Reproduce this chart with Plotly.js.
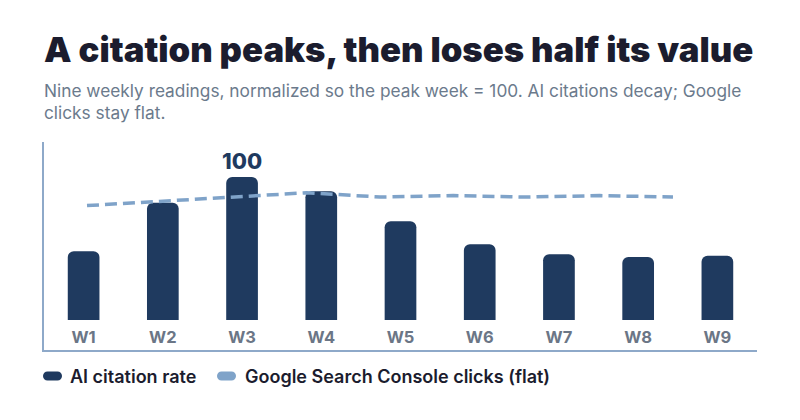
<!DOCTYPE html>
<html>
<head>
<meta charset="utf-8">
<script src="https://cdn.plot.ly/plotly-3.0.1.min.js"></script>
<style>html,body{margin:0;padding:0;background:#fff;}#chart{width:800px;height:420px;}</style>
</head>
<body>
<div id="chart"></div>
<script>
const weeks = ["W1","W2","W3","W4","W5","W6","W7","W8","W9"];
const aiCitation = [48, 82, 100, 90, 69, 53, 46, 44, 45];
const gscClicks = [80, 83, 86, 89, 86, 87, 86, 87, 86];
const gscIndex = [0, 1, 2, 3, 4, 5, 6, 7, 8];
const titleText = "A citation peaks, then loses half its value";
const subtitleText = "Nine weekly readings, normalized so the peak week = 100. AI citations decay; Google<br>clicks stay flat.";
const legendNames = ["AI citation rate", "Google Search Console clicks (flat)"];

const NAVY = "#1f3a5f";
const LIGHT = "#7fa3c9";
const AXIS = "#8ea9c9";
const FONT = "Inter, 'Noto Sans', sans-serif";

const peak = Math.max(...aiCitation);
const barText = aiCitation.map(v => v === peak ? String(v) : "");

function pill(x0, x1, yc, h) {
  const r = h / 2, t = yc + r, b = yc - r, k = r * 0.5523;
  return `M ${x0 + r},${t} L ${x1 - r},${t} ` +
    `C ${x1 - r + k},${t} ${x1},${yc + k} ${x1},${yc} ` +
    `C ${x1},${yc - k} ${x1 - r + k},${b} ${x1 - r},${b} ` +
    `L ${x0 + r},${b} ` +
    `C ${x0 + r - k},${b} ${x0},${yc - k} ${x0},${yc} ` +
    `C ${x0},${yc + k} ${x0 + r - k},${t} ${x0 + r},${t} Z`;
}

const traces = [
  {
    type: "bar", x: weeks, y: aiCitation, name: legendNames[0],
    marker: {color: NAVY, cornerradius: 6},
    text: barText, textposition: "outside", cliponaxis: false, constraintext: "none",
    textfont: {family: FONT, size: 22, color: NAVY, weight: 800},
    hoverinfo: "skip", showlegend: false
  },
  {
    type: "scatter", mode: "lines", x: gscIndex, y: gscClicks, name: legendNames[1],
    xaxis: "x2",
    line: {color: LIGHT, width: 3.5, dash: "12px,6px"},
    hoverinfo: "skip", showlegend: false
  }
];

const layout = {
  width: 800, height: 420,
  margin: {l: 44, r: 43, t: 142, b: 70},
  paper_bgcolor: "#ffffff", plot_bgcolor: "#ffffff",
  bargap: 0.6,
  font: {family: FONT},
  xaxis: {
    type: "category", range: [-0.5, 8.5],
    showline: true, linecolor: AXIS, linewidth: 2,
    showgrid: false, zeroline: false, ticks: "",
    ticklabelposition: "inside", ticklabelstandoff: 4,
    tickfont: {family: FONT, size: 16.5, color: "#6b7686", weight: 700}
  },
  xaxis2: {
    overlaying: "x", range: [-0.587, 9.147], visible: false, fixedrange: true
  },
  yaxis: {
    range: [-21, 124.5], showline: true, linecolor: AXIS, linewidth: 2,
    showgrid: false, zeroline: false, showticklabels: false, ticks: ""
  },
  annotations: [
    {xref: "paper", yref: "paper", x: 0, y: 1, xanchor: "left", yanchor: "bottom",
     xshift: -2, yshift: 70, text: titleText, showarrow: false, align: "left",
     font: {family: FONT, size: 34.7, color: "#1b1c2e", weight: 900}},
    {xref: "paper", yref: "paper", x: 0, y: 1, xanchor: "left", yanchor: "bottom",
     xshift: -2, yshift: 17, text: subtitleText, showarrow: false, align: "left",
     font: {family: FONT, size: 17.3, color: "#6b7a8c"}},
    {xref: "paper", yref: "paper", x: 0, y: 0, xanchor: "left", yanchor: "middle",
     xshift: 24, yshift: -26, text: legendNames[0], showarrow: false,
     font: {family: FONT, size: 18, color: "#1b1c2e", weight: 600}},
    {xref: "paper", yref: "paper", x: 0, y: 0, xanchor: "left", yanchor: "middle",
     xshift: 199, yshift: -26, text: legendNames[1], showarrow: false,
     font: {family: FONT, size: 18, color: "#1b1c2e", weight: 600}}
  ],
  shapes: [
    {type: "path", xref: "paper", yref: "paper", xsizemode: "pixel", ysizemode: "pixel",
     xanchor: 0, yanchor: 0, path: pill(-1, 18, -26, 9),
     fillcolor: NAVY, line: {width: 0}},
    {type: "path", xref: "paper", yref: "paper", xsizemode: "pixel", ysizemode: "pixel",
     xanchor: 0, yanchor: 0, path: pill(173, 192, -26, 9),
     fillcolor: LIGHT, line: {width: 0}}
  ]
};

Plotly.newPlot("chart", traces, layout, {displayModeBar: false, staticPlot: true});
</script>
</body>
</html>
